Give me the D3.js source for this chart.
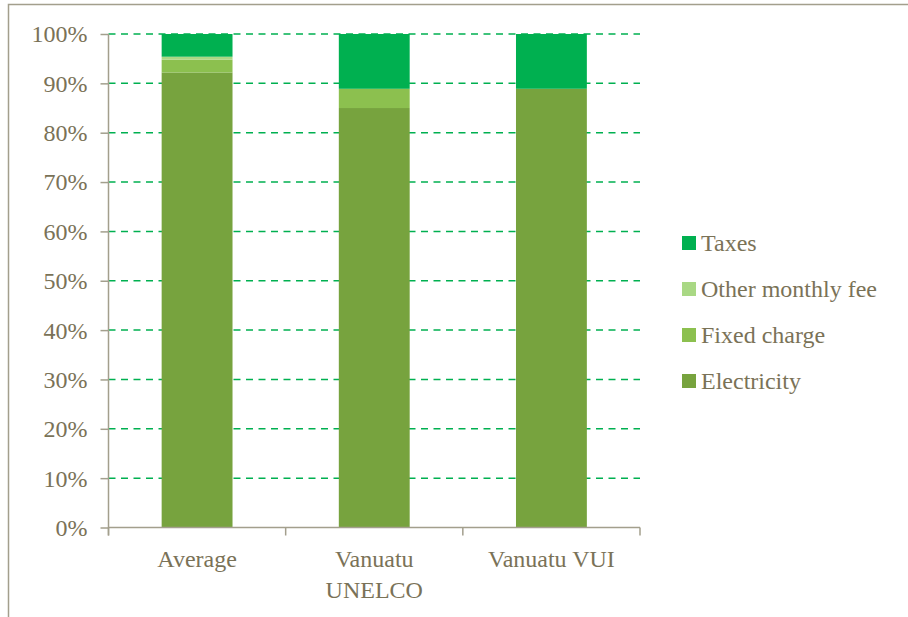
<!DOCTYPE html>
<html>
<head>
<meta charset="utf-8">
<script src="https://d3js.org/d3.v7.min.js"></script>
<style>
  body { margin: 0; background: #fff; }
  svg { display: block; }
</style>
</head>
<body>
<svg id="chart" width="908" height="617"></svg>
<script>
// categories and stacked shares (percent)
const categories = [['Average'], ['Vanuatu', 'UNELCO'], ['Vanuatu VUI']];
const seriesNames = ['Electricity', 'Fixed charge', 'Other monthly fee', 'Taxes'];
const electricity = [92.2, 85.0, 88.9];
const fixedCharge = [2.6, 3.9, 0];
const otherMonthlyFee = [0.6, 0, 0];
const taxes = [4.6, 11.1, 11.1];
const yTicks = [0, 10, 20, 30, 40, 50, 60, 70, 80, 90, 100];
const colors = ['#77a33e', '#8cc04f', '#a9d884', '#00b050'];

const FONT = '"Liberation Serif", "Times New Roman", serif';
const FONT_SIZE = '24px';
const TEXT_COLOR = '#7a7257';
const LINE_COLOR = '#a39f8d';

const svg = d3.select('#chart');
const margin = {top: 34, left: 108.5, bottom: 527.5, right: 640};

// outer frame (top + left visible)
svg.append('path')
    .attr('d', 'M8.5,617 V4.5 H908')
    .attr('fill', 'none')
    .attr('stroke', LINE_COLOR)
    .attr('stroke-width', 1.5);

const x = d3.scaleBand()
    .domain(d3.range(categories.length))
    .range([margin.left, margin.right])
    .paddingInner(0.6)
    .paddingOuter(0.3);

const y = d3.scaleLinear().domain([0, 100]).range([margin.bottom, margin.top]);

// gridlines
svg.append('g').selectAll('line')
    .data(yTicks.filter(d => d > 0))
    .join('line')
    .attr('x1', margin.left).attr('x2', margin.right)
    .attr('y1', d => y(d)).attr('y2', d => y(d))
    .attr('stroke', '#00b050')
    .attr('stroke-width', 1.5)
    .attr('stroke-dasharray', '7,5.5');

// stacked bars
const table = categories.map((c, i) => ({
  i: i,
  'Electricity': electricity[i],
  'Fixed charge': fixedCharge[i],
  'Other monthly fee': otherMonthlyFee[i],
  'Taxes': taxes[i]
}));
const stacked = d3.stack().keys(seriesNames)(table);

svg.append('g').selectAll('g')
    .data(stacked)
    .join('g')
    .attr('fill', (d, k) => colors[k])
    .selectAll('rect')
    .data(d => d)
    .join('rect')
    .attr('x', d => x(d.data.i))
    .attr('width', x.bandwidth())
    .attr('y', d => y(d[1]))
    .attr('height', d => y(d[0]) - y(d[1]));

// y axis
const yAxis = svg.append('g')
    .attr('transform', `translate(${margin.left},0)`)
    .call(d3.axisLeft(y).tickValues(yTicks).tickFormat(d => d + '%').tickSize(8).tickPadding(13));
yAxis.attr('font-family', null).attr('font-size', null);
yAxis.select('.domain').attr('stroke', LINE_COLOR).attr('stroke-width', 1.5)
    .attr('d', `M0,${margin.top}V${margin.bottom + 8}`);
yAxis.selectAll('.tick line').attr('stroke', LINE_COLOR).attr('stroke-width', 1.5);
yAxis.selectAll('.tick text')
    .style('font-family', FONT).style('font-size', FONT_SIZE)
    .attr('fill', TEXT_COLOR).attr('dy', '0.33em');

// x axis
const bandStep = (margin.right - margin.left) / categories.length;
const xEdges = d3.range(categories.length + 1).map(k => margin.left + k * bandStep);
const xAxisG = svg.append('g');
xAxisG.append('line')
    .attr('x1', margin.left).attr('x2', margin.right)
    .attr('y1', margin.bottom).attr('y2', margin.bottom)
    .attr('stroke', LINE_COLOR).attr('stroke-width', 1.5);
xAxisG.selectAll('line.tk')
    .data(xEdges)
    .join('line')
    .attr('class', 'tk')
    .attr('x1', d => d).attr('x2', d => d)
    .attr('y1', margin.bottom).attr('y2', margin.bottom + 8)
    .attr('stroke', LINE_COLOR).attr('stroke-width', 1.5);

xAxisG.selectAll('text')
    .data(categories)
    .join('text')
    .attr('x', (d, i) => x(i) + x.bandwidth() / 2)
    .attr('y', 567)
    .attr('text-anchor', 'middle')
    .attr('fill', TEXT_COLOR)
    .style('font-family', FONT)
    .style('font-size', FONT_SIZE)
    .selectAll('tspan')
    .data(d => d)
    .join('tspan')
    .attr('x', function() { return this.parentNode.getAttribute('x'); })
    .attr('dy', (d, j) => j === 0 ? 0 : 31)
    .text(d => d);

// legend (top to bottom: reversed order)
const legendItems = seriesNames.map((n, k) => ({name: n, color: colors[k]})).reverse();
const legend = svg.append('g').selectAll('g')
    .data(legendItems)
    .join('g')
    .attr('transform', (d, k) => `translate(682,${243 + k * 46})`);
legend.append('rect')
    .attr('x', 0).attr('y', -7)
    .attr('width', 14).attr('height', 14)
    .attr('fill', d => d.color);
legend.append('text')
    .attr('x', 19).attr('y', 0).attr('dy', '0.33em')
    .attr('fill', TEXT_COLOR)
    .style('font-family', FONT)
    .style('font-size', FONT_SIZE)
    .text(d => d.name);
</script>
</body>
</html>
